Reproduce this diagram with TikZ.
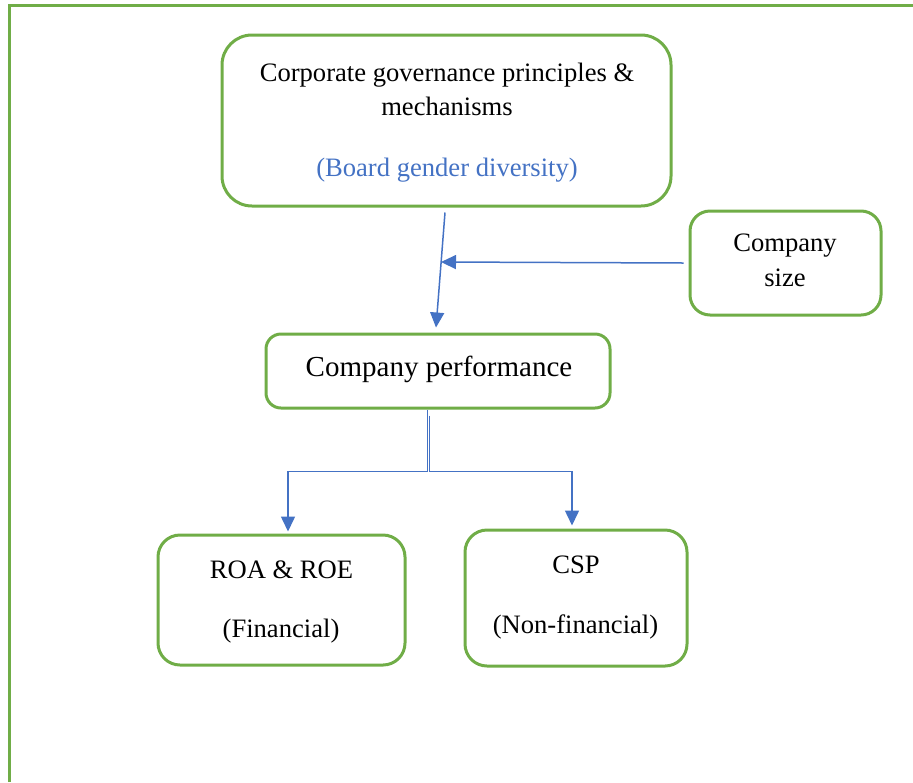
\documentclass[tikz,border=0pt]{standalone}
\usepackage{fontspec}
\setmainfont{Liberation Serif}
\usetikzlibrary{arrows.meta,calc}
\definecolor{frgreen}{HTML}{70AD47}
\definecolor{arblue}{HTML}{4472C4}
\tikzset{
  box/.style={draw=frgreen, line width=1.5pt, rounded corners=#1, fill=none, inner sep=0pt},
  box/.default=10pt,
  txt/.style={anchor=base, inner sep=0pt, font=\fontsize{13.3pt}{16pt}\selectfont},
  bigtxt/.style={anchor=base, inner sep=0pt, font=\fontsize{14.5pt}{17pt}\selectfont},
  arr/.style={draw=arblue, line width=0.75pt, -{Triangle[width=7pt,length=7.5pt]}},
  lnk/.style={draw=arblue, line width=0.75pt}
}
\begin{document}
\begin{tikzpicture}[x=0.5pt,y=-0.5pt]
\useasboundingbox (0,0) rectangle (913,782);
% outer frame
\draw[frgreen, line width=1.5pt] (9.5,782) -- (9.5,5) -- (913,5);
% boxes
\node[box=15pt, minimum width=224.5pt, minimum height=85.5pt] (top) at (446.5,120.5) {};
\node[box=10pt, minimum width=95.5pt, minimum height=52pt] (size) at (785.5,263) {};
\node[box=7.5pt, minimum width=172pt, minimum height=37pt] (perf) at (438,371) {};
\node[box=11pt, minimum width=123.5pt, minimum height=65pt] (roa) at (281.5,600) {};
\node[box=11pt, minimum width=111pt, minimum height=68pt] (csp) at (576,598) {};
% texts
\node[txt] (t1) at (447,81) {Corporate governance principles \&};
\node[txt] (t2) at (447,115) {mechanisms};
\node[txt, text=arblue] (t3) at (447,176.5) {(Board gender diversity)};
\node[txt] (s1) at (785,251.5) {Company};
\node[txt] (s2) at (785,286) {size};
\node[bigtxt] (p1) at (439,376.5) {Company performance};
\node[txt] (r1) at (281.5,578) {ROA \& ROE};
\node[txt] (r2) at (281,637) {(Financial)};
\node[txt] (c1) at (576,573) {CSP};
\node[txt] (c2) at (575.5,633) {(Non-financial)};
% connectors
\coordinate (mid) at (441,262);
\draw[arr] ([xshift=-0.75pt,yshift=-2.5pt]top.south) -- ([xshift=-1pt,yshift=2.5pt]perf.north);
\draw[arr] ([xshift=-2.5pt]size.west) -- (mid);
\draw[lnk] ([xshift=-5.25pt]perf.south) -- ([xshift=-5.25pt,yshift=-31pt]perf.south);
\draw[arr] ([xshift=-5.25pt,yshift=-31pt]perf.south) -| ([xshift=3.25pt,yshift=1pt]roa.north);
\draw[lnk] ([xshift=-4.25pt,yshift=-3pt]perf.south) -- ([xshift=-4.25pt,yshift=-31pt]perf.south);
\draw[arr] ([xshift=-4.25pt,yshift=-31pt]perf.south) -| ([xshift=-2pt,yshift=1.5pt]csp.north);
\end{tikzpicture}
\end{document}
